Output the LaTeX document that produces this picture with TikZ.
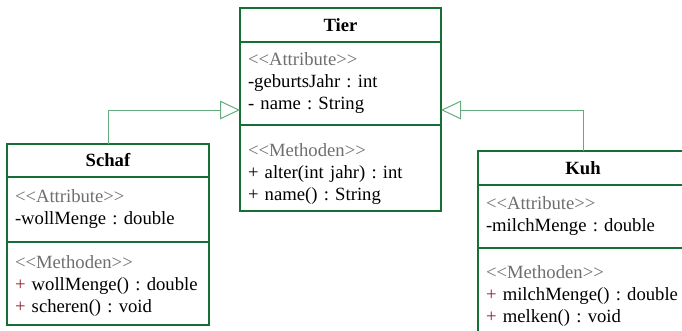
\documentclass[tikz,border=0pt]{standalone}
\usepackage{fontspec}
\setmainfont{Liberation Serif}[Ligatures=TeXOff]
\usetikzlibrary{positioning,arrows.meta}

\definecolor{umlgreen}{RGB}{22,112,54}
\definecolor{linkgreen}{RGB}{100,172,128}
\definecolor{stereogray}{RGB}{110,110,110}
\definecolor{plusred}{RGB}{140,30,45}

\newcommand{\stereotype}[1]{\textcolor{stereogray}{<<#1>>}}
\newcommand{\pub}{\textcolor{plusred}{+}}
\newcommand{\topgap}[1]{\rule{0pt}{#1}}

\begin{document}
\frenchspacing
\begin{tikzpicture}[x=0.75pt, y=-0.75pt,
  classbox/.style={draw=umlgreen, line width=1.5pt, outer sep=0pt, inner xsep=6pt, font=\fontsize{14}{16.5}\selectfont},
  head/.style={classbox, align=center, font=\fontsize{14}{16.5}\selectfont\bfseries},
  part/.style={classbox, align=left},
  inherit/.style={draw=linkgreen, line width=0.75pt, -{Triangle[open, length=15pt, width=14pt, fill=white]}}]

\useasboundingbox (0,0) rectangle (682,330);
\clip (0,0) rectangle (682,330);

% Superclass
\node (tier) [head, text width=138.75pt, minimum height=25.5pt] at (340.5,25) {Tier};
\node (tierAttr) [part, below=0pt of tier, text width=138.75pt, minimum height=62.25pt] {\stereotype{Attribute}\\-geburtsJahr : int\\- name : String};
\node (tierMeth) [part, below=0pt of tierAttr, text width=138.75pt, minimum height=64.5pt] {\topgap{19pt}\stereotype{Methoden}\\+ alter(int jahr) : int\\+ name() : String};

% Subclasses
\node (schaf) [head, text width=139.5pt, minimum height=24.75pt] at (108,160.5) {Schaf};
\node (schafAttr) [part, below=0pt of schaf, text width=139.5pt, minimum height=48.75pt] {\stereotype{Attribute}\\-wollMenge : double\\[2pt]};
\node (schafMeth) [part, below=0pt of schafAttr, text width=139.5pt, minimum height=62.25pt] {\topgap{14pt}\stereotype{Methoden}\\\pub{} wollMenge() : double\\\pub{} scheren() : void};

\node (kuh) [head, text width=145.5pt, minimum height=25.5pt] at (583,168) {Kuh};
\node (kuhAttr) [part, below=0pt of kuh, text width=145.5pt, minimum height=47.25pt] {\stereotype{Attribute}\\-milchMenge : double};
\node (kuhMeth) [part, below=0pt of kuhAttr, text width=145.5pt, minimum height=65.25pt] {\topgap{16pt}\stereotype{Methoden}\\\pub{} milchMenge() : double\\\pub{} melken() : void};

% Generalisations
\draw[inherit] (schaf.north) |- ([yshift=11.25pt]tierAttr.south west);
\draw[inherit] (kuh.north) |- ([yshift=11.25pt]tierAttr.south east);

\end{tikzpicture}
\end{document}
